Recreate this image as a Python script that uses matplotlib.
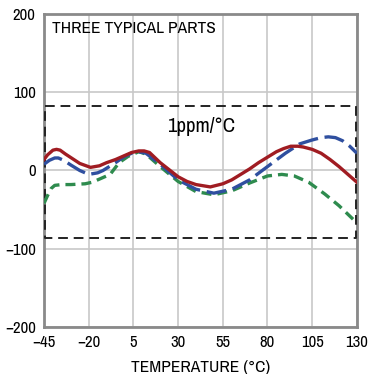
import matplotlib
matplotlib.use("Agg")
import matplotlib.pyplot as plt

# temperature sweep readings (deg C) and drift (ppm) for three parts
temp_red = [-45, -43, -40, -38, -36, -33, -29, -25, -19, -14, -10, -5, 0, 4, 8, 11, 14, 20, 25, 30, 35, 40, 48, 55, 60, 65, 70, 75, 80, 85, 89, 93, 97, 100, 105, 110, 115, 120, 125, 130]
ppm_red = [14, 20, 26, 27, 26, 21, 15, 9, 4, 6, 10, 14, 19, 23, 25, 25, 23, 10, 1, -8, -14, -18, -21, -17, -12, -5, 2, 10, 17, 24, 28, 31, 31, 30, 27, 22, 14, 5, -5, -15]

temp_blue = [-45, -42, -39, -37, -34, -30, -25, -20, -15, -12, -5, 0, 4, 8, 12, 20, 30, 40, 50, 60, 70, 80, 90, 98, 105, 110, 114, 118, 122, 126, 130]
ppm_blue = [8, 13, 16, 16, 13, 7, 0, -5, -3, 0, 10, 18, 22, 24, 22, 8, -12, -24, -29, -24, -12, 5, 22, 34, 39, 42, 43, 42, 38, 31, 22]

temp_green = [-45, -43, -41, -39, -35, -30, -22, -18, -15, -8, -3, 2, 8, 12, 20, 30, 40, 50, 60, 70, 80, 88, 95, 103, 112, 120, 130]
ppm_green = [-42, -32, -23, -19, -18, -18, -17, -15, -12, -5, 10, 18, 24, 21, 5, -14, -27, -31, -26, -16, -7, -5, -7, -15, -30, -45, -67]

box_top, box_bottom = 82, -86
x_ticks = [-45, -20, 5, 30, 55, 80, 105, 130]
y_ticks = [-200, -100, 0, 100, 200]

plt.rcParams['font.family'] = ['Archivo Narrow', 'DejaVu Sans']

fig = plt.figure(figsize=(3.85, 3.74), dpi=100)
ax = fig.add_axes([0.1143, 0.1257, 0.8127, 0.8369])

ax.set_xlim(-45, 130)
ax.set_ylim(-200, 200)
ax.set_xticks(x_ticks)
ax.set_yticks(y_ticks)
ax.set_yticklabels(["\u2212200", "\u2212100", "0", "100", "200"])
ax.set_xticklabels(["\u221245", "\u221220"] + [str(t) for t in x_ticks[2:]])
ax.tick_params(length=0, labelsize=12, colors="black", pad=6)
ax.grid(True, color="#c8c8c8", linewidth=1.2)
ax.set_axisbelow(True)
for s in ax.spines.values():
    s.set_color("#8a8a8a")
    s.set_linewidth(2)

# 1ppm/°C box
ax.plot([-44.4, 129.4, 129.4, -44.4, -44.4], [box_top, box_top, box_bottom, box_bottom, box_top],
        color="#222222", linewidth=1.4, linestyle=(0, (5, 3)), zorder=3)

ax.plot(temp_green, ppm_green, color="#2e8b4e", linewidth=2.4, linestyle=(0, (3, 1.8)), zorder=4)
ax.plot(temp_blue, ppm_blue, color="#2f4f9f", linewidth=2.4, linestyle=(0, (6, 2)), zorder=5)
ax.plot(temp_red, ppm_red, color="#a01c22", linewidth=2.4, zorder=6)

ax.text(-40.5, 182, "THREE TYPICAL PARTS", fontsize=12.5, va="center", ha="left")
ax.text(43, 56, "1ppm/\u00b0C", fontsize=15, va="center", ha="center")
ax.set_xlabel("TEMPERATURE (\u00b0C)", fontsize=12.5, labelpad=7)

fig.savefig("out.png", dpi=100)
